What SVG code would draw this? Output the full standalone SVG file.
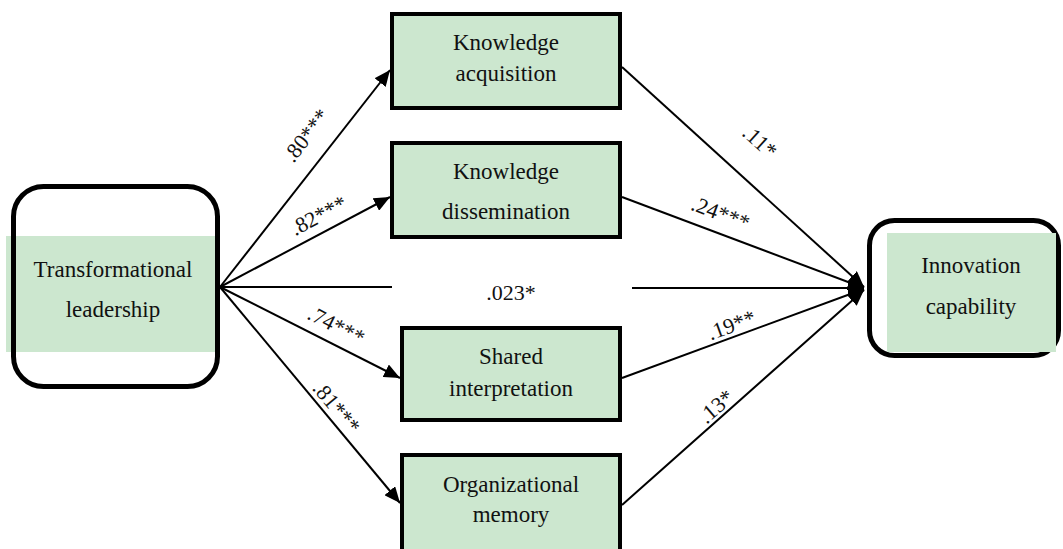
<svg xmlns="http://www.w3.org/2000/svg" width="1063" height="549" viewBox="0 0 1063 549" font-family="Liberation Serif, Times New Roman, serif">
<style>
.box{fill:#cce7cf;stroke:#000;stroke-width:4}
.band{fill:#cce7cf}
.rbox{fill:none;stroke:#000;stroke-width:5}
.t{font-size:23px;fill:#111;text-anchor:middle}
.lb{font-size:22px;fill:#111;text-anchor:middle}
.ln{stroke:#000;stroke-width:2;fill:none}
</style>
<defs>
<marker id="ah" markerUnits="userSpaceOnUse" markerWidth="18" markerHeight="14" refX="16" refY="7" orient="auto">
<path d="M0,0 L16,7 L0,14 Z" fill="#000"/>
</marker>
</defs>
<rect width="1063" height="549" fill="#fff"/>
<g id="connectors">
<line class="ln" x1="220" y1="287" x2="390" y2="70" marker-end="url(#ah)"/>
<line class="ln" x1="220" y1="287" x2="390" y2="197" marker-end="url(#ah)"/>
<line class="ln" x1="220" y1="287" x2="392" y2="287"/>
<line class="ln" x1="632" y1="288" x2="864" y2="288" marker-end="url(#ah)"/>
<line class="ln" x1="220" y1="287" x2="400" y2="378" marker-end="url(#ah)"/>
<line class="ln" x1="220" y1="287" x2="400" y2="503" marker-end="url(#ah)"/>
<line class="ln" x1="622" y1="67" x2="864" y2="287" marker-end="url(#ah)"/>
<line class="ln" x1="622" y1="197" x2="864" y2="288" marker-end="url(#ah)"/>
<line class="ln" x1="622" y1="378" x2="864" y2="289" marker-end="url(#ah)"/>
<line class="ln" x1="622" y1="505" x2="864" y2="290" marker-end="url(#ah)"/>
<text class="lb" transform="translate(312,140) rotate(-52)">.80***</text>
<text class="lb" transform="translate(322,222) rotate(-28)">.82***</text>
<text class="lb" transform="translate(333,332) rotate(27)">.74***</text>
<text class="lb" transform="translate(331,412) rotate(50)">.81***</text>
<text class="lb" x="511" y="300">.023*</text>
<text class="lb" transform="translate(755,147) rotate(42)">.11*</text>
<text class="lb" transform="translate(718,220) rotate(20.5)">.24***</text>
<text class="lb" transform="translate(734,332) rotate(-20)">.19**</text>
<text class="lb" transform="translate(721,412) rotate(-41)">.13*</text>
</g>
<g id="transformational">
<rect class="band" x="6" y="236" width="214" height="116"/>
<rect class="rbox" x="13.5" y="186.5" width="204" height="200" rx="30"/>
<text class="t" x="113" y="277">Transformational</text>
<text class="t" x="113" y="317">leadership</text>
</g>
<g id="acquisition">
<rect class="box" x="392" y="14" width="228" height="94"/>
<text class="t" x="506" y="50">Knowledge</text>
<text class="t" x="506" y="81">acquisition</text>
</g>
<g id="dissemination">
<rect class="box" x="392" y="143" width="228" height="94"/>
<text class="t" x="506" y="179">Knowledge</text>
<text class="t" x="506" y="219">dissemination</text>
</g>
<g id="shared">
<rect class="box" x="402" y="328" width="218" height="92"/>
<text class="t" x="511" y="364">Shared</text>
<text class="t" x="511" y="396">interpretation</text>
</g>
<g id="memory">
<rect class="box" x="402" y="455" width="218" height="100"/>
<text class="t" x="511" y="492">Organizational</text>
<text class="t" x="511" y="522">memory</text>
</g>
<g id="innovation">
<rect class="rbox" x="869.5" y="220.5" width="189" height="135" rx="25"/>
<rect class="band" x="887" y="233" width="169" height="119"/>
<text class="t" x="971" y="273">Innovation</text>
<text class="t" x="971" y="314">capability</text>
</g>
</svg>
